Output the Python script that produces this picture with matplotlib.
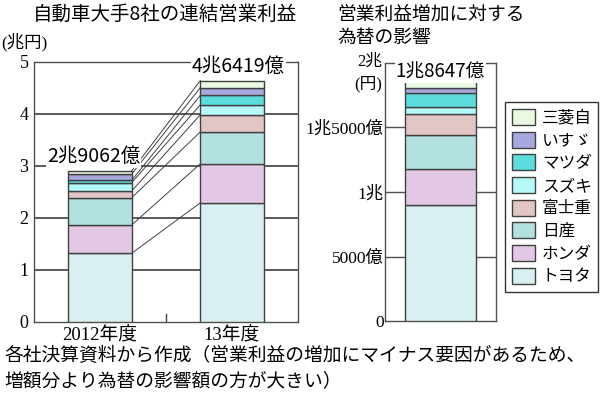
import numpy as np
import matplotlib
matplotlib.use('Agg')
import matplotlib.pyplot as plt
from matplotlib.patches import Patch

plt.rcParams['font.family'] = ['Noto Sans CJK JP', 'DejaVu Sans']
SERIF = ['Liberation Serif', 'Noto Sans CJK JP']

# companies, bottom to top
companies = ['トヨタ', 'ホンダ', '日産', '富士重', 'スズキ', 'マツダ', 'いすゞ', '三菱自']
colors = ['#d8f0f0', '#e2c8e4', '#b2e0e0', '#e2c6c6', '#b4f8f8', '#5cdcdc', '#a8a8e0', '#eafae2']

years = ['2012年度', '13年度']
profit_2012 = [1.3208, 0.5448, 0.5231, 0.1295, 0.1600, 0.0460, 0.1210, 0.0610]   # 兆円
profit_2013 = [2.2921, 0.7502, 0.6136, 0.3300, 0.1900, 0.1800, 0.1500, 0.1360]
total_labels = ['2兆9062億', '4兆6419億']

fx_effect = [0.902, 0.280, 0.257, 0.166, 0.055, 0.106, 0.041, 0.0577]   # 兆円
fx_label = '1兆8647億'

left_yticks = [0, 1, 2, 3, 4, 5]
right_yticks = [0, 0.5, 1.0, 1.5]
right_yticklabels = ['0', '5000億', '1兆', '1兆5000億']

fig = plt.figure(figsize=(6, 3.97), dpi=100)

# ---- left chart
ax = fig.add_axes([0.0567, 0.189, 0.44, 0.655])
w = 0.48
edge = '#404040'
data = np.array([profit_2012, profit_2013])
bottoms = np.zeros(2)
for i, c in enumerate(companies):
    ax.bar([0, 1], data[:, i], width=w, bottom=bottoms, color=colors[i],
           edgecolor=edge, linewidth=1.0, zorder=3)
    bottoms = bottoms + data[:, i]

cum = np.cumsum(data, axis=1)
for i in range(len(companies)):
    ax.plot([w / 2, 1 - w / 2], [cum[0, i], cum[1, i]], color='#404040', lw=0.7, zorder=2)

for x, tot, lab in zip([-0.05, 1.05], cum[:, -1], total_labels):
    ax.text(x, tot + 0.07, lab, ha='center', va='bottom', fontsize=14, zorder=4,
            bbox=dict(facecolor='white', edgecolor='none', pad=0.5))

ax.set_xlim(-0.5, 1.5)
ax.set_ylim(0, 5)
ax.set_yticks(left_yticks)
ax.set_yticklabels([str(t) for t in left_yticks], family=SERIF, fontsize=13)
ax.set_xticks([0, 1])
ax.set_xticklabels(years, family=SERIF, fontsize=13.5)
ax.tick_params(length=0, pad=4)
ax.axvline(0.5, ymin=0, ymax=0.03, color='#404040', lw=1)
for y in left_yticks[1:-1]:
    ax.axhline(y, color='#404040', lw=1.2, zorder=1)
for s in ax.spines.values():
    s.set_color('#505050')
    s.set_linewidth(1.0)

fig.text(0.275, 0.965, '自動車大手8社の連結営業利益', ha='center', va='center', fontsize=14)
fig.text(0.002, 0.895, '(兆円)', ha='left', va='center', fontsize=12.5, family=SERIF)

# ---- right chart
ax2 = fig.add_axes([0.6417, 0.1914, 0.185, 0.65])
bot = 0.0
for i, c in enumerate(companies):
    ax2.bar(0, fx_effect[i], width=0.64, bottom=bot, color=colors[i],
            edgecolor=edge, linewidth=1.0, zorder=3)
    bot += fx_effect[i]
ax2.text(0, 1.93, fx_label, ha='center', va='center', fontsize=13.5, zorder=4,
         bbox=dict(facecolor='white', edgecolor='none', pad=0.5))
ax2.set_xlim(-0.5, 0.5)
ax2.set_ylim(0, 2)
ax2.set_xticks([])
ax2.set_yticks(right_yticks)
ax2.set_yticklabels(right_yticklabels, family=SERIF, fontsize=12.5)
ax2.tick_params(length=0, pad=1)
ax2.text(-0.53, 2.01, '2兆', ha='right', va='center', fontsize=12, family=SERIF)
ax2.text(-0.53, 1.84, '(円)', ha='right', va='center', fontsize=12, family=SERIF)
for y in right_yticks[1:]:
    ax2.axhline(y, color='#505050', lw=1.0, zorder=1)
for s in ax2.spines.values():
    s.set_color('#505050')
    s.set_linewidth(1.0)

fig.text(0.562, 0.965, '営業利益増加に対する', ha='left', va='center', fontsize=13.5)
fig.text(0.562, 0.905, '為替の影響', ha='left', va='center', fontsize=13.5)

handles = [Patch(facecolor=colors[i], edgecolor=edge, label=companies[i])
           for i in range(len(companies) - 1, -1, -1)]
fig.legend(handles=handles, loc='upper left', bbox_to_anchor=(0.842, 0.742),
           fontsize=12, frameon=True, fancybox=False, edgecolor='black',
           handlelength=1.4, handleheight=1.1, handletextpad=0.4,
           labelspacing=0.3, borderpad=0.4, borderaxespad=0)

fig.text(0.008, 0.105, '各社決算資料から作成（営業利益の増加にマイナス要因があるため、',
         ha='left', va='center', fontsize=13.5)
fig.text(0.008, 0.04, '増額分より為替の影響額の方が大きい）', ha='left', va='center', fontsize=13.5)

fig.savefig('out.png', dpi=100)
